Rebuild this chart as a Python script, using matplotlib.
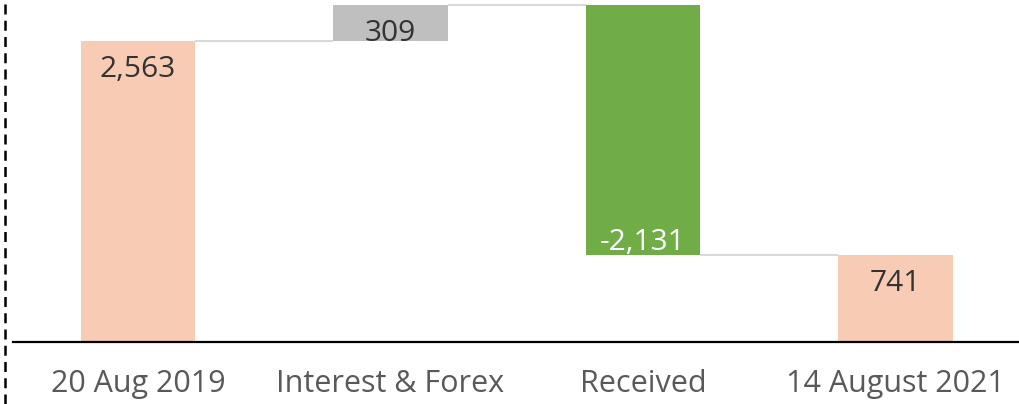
import numpy as np
import matplotlib.pyplot as plt
from matplotlib.lines import Line2D

# waterfall data
categories = ['20 Aug 2019', 'Interest & Forex', 'Received', '14 August 2021']
values = [2563, 309, -2131, 741]
kinds = ['total', 'delta', 'delta', 'total']
labels = ['2,563', '309', '-2,131', '741']
bar_colors = ['#F8CBB5', '#BFBFBF', '#70AD47', '#F8CBB5']
label_colors = ['#333333', '#333333', '#FFFFFF', '#333333']

plt.rcParams['font.family'] = ['Open Sans', 'DejaVu Sans']

fig = plt.figure(figsize=(10.19, 4.04), dpi=100)
ax = fig.add_axes([13 / 1019, 62.5 / 404, 1006 / 1019, 341.5 / 404])

# work out bar bottoms / tops from the running total
bottoms, tops, levels = [], [], []
running = 0
for v, k in zip(values, kinds):
    if k == 'total':
        b, t = 0, v
        running = v
    else:
        b, t = running, running + v
        running = running + v
    bottoms.append(min(b, t))
    tops.append(max(b, t))
    levels.append(running)

x = np.arange(len(categories))
width = 0.453
heights = [t - b for b, t in zip(bottoms, tops)]
ax.bar(x, heights, width, bottom=bottoms, color=bar_colors, zorder=2)

# connector lines between bars
for i in range(len(x) - 1):
    ax.plot([x[i] + width / 2, x[i + 1] - width / 2], [levels[i], levels[i]],
            color='#D9D9D9', lw=1.5, zorder=1, solid_capstyle='butt')

# value labels just inside the end of each bar
for i, v in enumerate(values):
    if v >= 0:
        ax.annotate(labels[i], xy=(x[i], levels[i]), xytext=(0, -10), textcoords='offset points',
                    ha='center', va='top', fontsize=21.5, color=label_colors[i])
    else:
        ax.annotate(labels[i], xy=(x[i], levels[i]), xytext=(0, -2), textcoords='offset points',
                    ha='center', va='bottom', fontsize=21.5, color=label_colors[i])

ax.set_xlim(-0.495, 3.489)
ax.set_ylim(0, 2872 * 341.5 / 336.5)
ax.set_xticks(x)
ax.set_xticklabels(categories, fontsize=22, color='#595959')
ax.tick_params(axis='x', length=0, pad=20)
ax.set_yticks([])
for side in ['top', 'right', 'left']:
    ax.spines[side].set_visible(False)
ax.spines['bottom'].set_color('black')
ax.spines['bottom'].set_linewidth(1.6)

# dashed divider at the left edge
fig.add_artist(Line2D([5 / 1019, 5 / 1019], [0, 1], transform=fig.transFigure,
                      color='black', lw=1.8, linestyle=(0, (4, 2.5))))

fig.savefig('out.png', dpi=100)
